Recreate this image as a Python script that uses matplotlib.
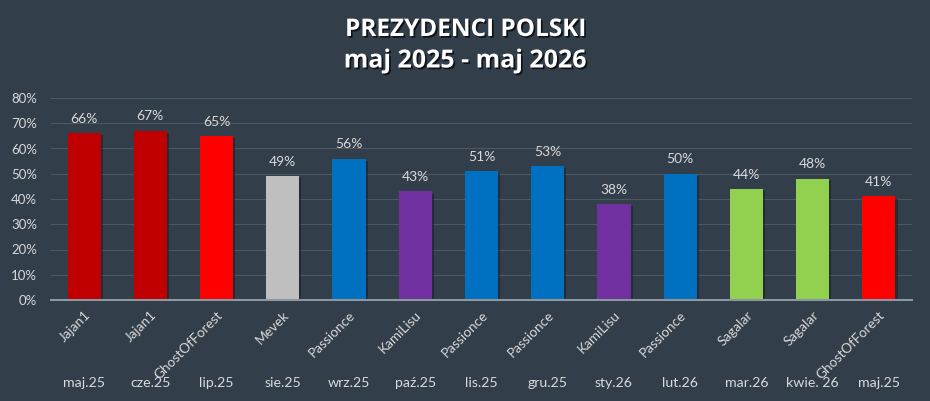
import matplotlib
matplotlib.use("Agg")
import matplotlib.pyplot as plt
import matplotlib.transforms as mtransforms
import matplotlib.patheffects as pe

# dane
names = ["Jajan1", "Jajan1", "GhostOfForest", "Mevek", "Passionce", "KamiLisu",
         "Passionce", "Passionce", "KamiLisu", "Passionce", "Sagalar", "Sagalar",
         "GhostOfForest"]
months = ["maj.25", "cze.25", "lip.25", "sie.25", "wrz.25", "paź.25", "lis.25",
          "gru.25", "sty.26", "lut.26", "mar.26", "kwie. 26", "maj.25"]
values = [66, 67, 65, 49, 56, 43, 51, 53, 38, 50, 44, 48, 41]
colors = ["#C00000", "#C00000", "#FF0000", "#BFBFBF", "#0070C0", "#7030A0",
          "#0070C0", "#0070C0", "#7030A0", "#0070C0", "#92D050", "#92D050",
          "#FF0000"]

bg = "#323E4A"
txt = "#D9D9D9"
plt.rcParams['font.family'] = ['Lato', 'DejaVu Sans']

fig = plt.figure(figsize=(9.3, 4.01), dpi=100, facecolor=bg)
ax = fig.add_axes([51 / 930, 1 - 300 / 401, (912 - 51) / 930, (300 - 98) / 401])
ax.set_facecolor(bg)

x = list(range(len(values)))
bars = ax.bar(x, values, width=0.5, color=colors, zorder=3)
for b in bars:
    b.set_path_effects([pe.SimplePatchShadow(offset=(1.5, -1.5), shadow_rgbFace="#1a2028", alpha=0.6),
                        pe.Normal()])

for i, v in enumerate(values):
    ax.annotate(f"{v}%", (i, v), xytext=(0, 6), textcoords="offset points",
                ha="center", va="bottom", color=txt, fontsize=10)

ax.set_xlim(-0.5, len(values) - 0.5)
ax.set_ylim(0, 80)
ax.set_yticks(range(0, 81, 10))
ax.set_yticklabels([f"{t}%" for t in range(0, 81, 10)], color=txt, fontsize=9.5)
ax.set_xticks([])
ax.tick_params(axis="y", length=0, pad=10)
ax.grid(axis="y", color="#4C5864", linewidth=0.8, zorder=0)
for s in ["top", "right", "left"]:
    ax.spines[s].set_visible(False)
ax.spines["bottom"].set_color("#8C97A1")
ax.spines["bottom"].set_linewidth(1.5)
ax.spines["bottom"].set_zorder(4)

trans = mtransforms.blended_transform_factory(ax.transData, fig.transFigure)
for i, (n, m) in enumerate(zip(names, months)):
    off = mtransforms.offset_copy(trans, fig=fig, x=4, y=0, units="dots")
    ax.text(i, 1 - 313 / 401, n, transform=off, rotation=45, rotation_mode="anchor",
            ha="right", va="center", color=txt, fontsize=9.8)
    ax.text(i, 1 - 383 / 401, m, transform=trans, ha="center", va="center",
            color=txt, fontsize=10.2)

title_font = ["Open Sans", "DejaVu Sans"]
fig.text(0.5, 1 - 30 / 401, "PREZYDENCI POLSKI", ha="center", va="center",
         color="white", fontsize=17.5, fontweight="bold", family=title_font)
fig.text(0.5, 1 - 61 / 401, "maj 2025 - maj 2026", ha="center", va="center",
         color="white", fontsize=18, fontweight="bold", family=title_font)
for t in fig.texts:
    t.set_path_effects([pe.withSimplePatchShadow(offset=(1.2, -1.2), shadow_rgbFace="black", alpha=0.7)])

fig.savefig("out.png", dpi=100, facecolor=bg)
